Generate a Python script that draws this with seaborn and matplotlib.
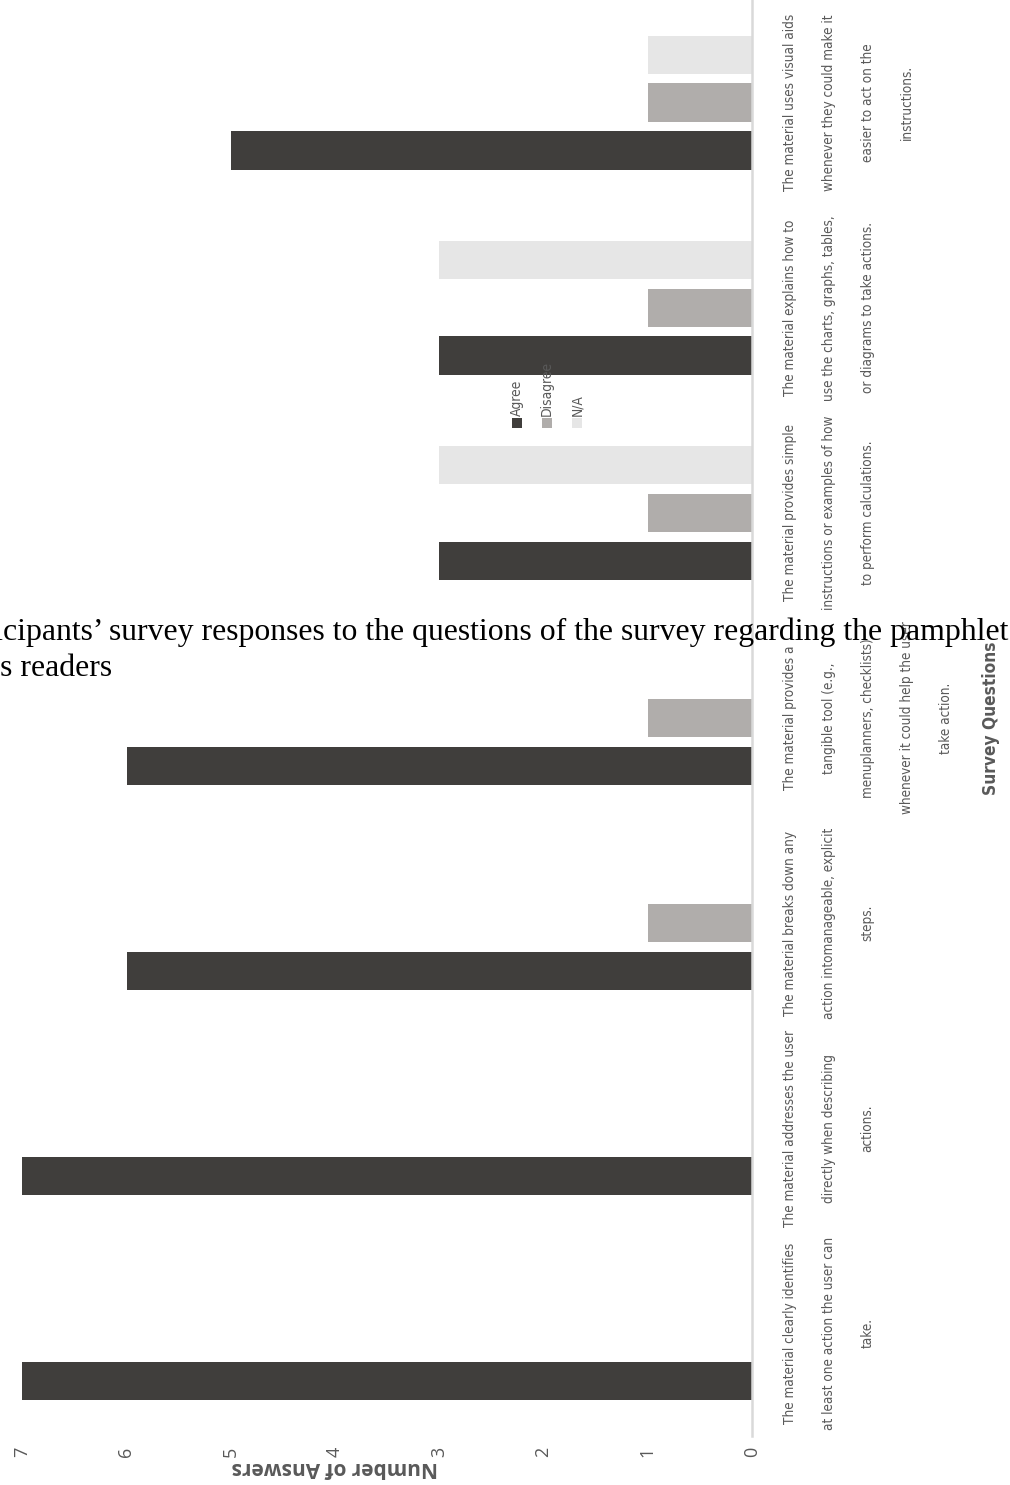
import matplotlib
matplotlib.use("Agg")
import matplotlib.pyplot as plt
import pandas as pd
import seaborn as sns
from matplotlib import font_manager
from matplotlib.font_manager import FontProperties
from matplotlib.patches import Rectangle

# ---- data -------------------------------------------------------------
questions = [
    "The material clearly identifies\nat least one action the user can\ntake.",
    "The material addresses the user\ndirectly when describing\nactions.",
    "The material breaks down any\naction intomanageable, explicit\nsteps.",
    "The material provides a\ntangible tool (e.g.,\nmenuplanners, checklists)\nwhenever it could help the user\ntake action.",
    "The material provides simple\ninstructions or examples of how\nto perform calculations.",
    "The material explains how to\nuse the charts, graphs, tables,\nor diagrams to take actions.",
    "The material uses visual aids\nwhenever they could make it\neasier to act on the\ninstructions.",
]
agree = [7, 7, 6, 6, 3, 3, 5]
disagree = [0, 0, 1, 1, 1, 1, 1]
not_applicable = [0, 0, 0, 0, 3, 3, 1]
responses = ["Agree", "Disagree", "N/A"]
value_ticks = [0, 1, 2, 3, 4, 5, 6, 7]
value_max = 8
palette = ["#403e3c", "#b0adab", "#e6e6e6"]

caption_line1 = "Participants\u2019 survey responses to the questions of the survey regarding the pamphlet"
caption_line2 = "as readers"

rows = []
for q, a, d, n in zip(questions, agree, disagree, not_applicable):
    for r, v in zip(responses, (a, d, n)):
        rows.append({"Question": q, "Response": r, "Count": v})
df = pd.DataFrame(rows)

# ---- fonts --------------------------------------------------------------
sns.set_theme(style="white")
plt.rcParams["font.family"] = ["Open Sans", "DejaVu Sans"]
grey_text = "#595959"


def stretch_value(st):
    if isinstance(st, str):
        return font_manager.stretch_dict.get(st, 500)
    return st


def weight_value(w):
    if isinstance(w, str):
        return font_manager.weight_dict.get(w, 400)
    return w


def narrow_font(target_weight):
    """Most suitable condensed face that is installed, else a plain sans."""
    best, best_key = None, None
    for f in font_manager.fontManager.ttflist:
        if f.style != "normal" or "CJK" in f.name:
            continue
        st = stretch_value(f.stretch)
        if st >= 500 or st < 200:
            continue
        key = (abs(st - 300), abs(weight_value(f.weight) - target_weight))
        if best_key is None or key < best_key:
            best, best_key = f, key
    if best is not None:
        return FontProperties(fname=best.fname)
    fp = FontProperties(family=["Liberation Sans", "DejaVu Sans"])
    if target_weight >= 600:
        fp.set_weight("bold")
    return fp


cond_regular = narrow_font(400)
cond_bold = narrow_font(700)
serif = FontProperties(family=["Liberation Serif", "DejaVu Serif"])

W, H = 1010, 1485
fig = plt.figure(figsize=(W / 100, H / 100), dpi=100)
fig.patch.set_facecolor("white")
renderer = fig.canvas.get_renderer()


def text_width(s, fp, size):
    p = fp.copy()
    p.set_size(size)
    t = fig.text(0, 0, s, fontproperties=p)
    w = t.get_window_extent(renderer).width
    t.remove()
    return w


def fit_size(s, fp, target_px, cap):
    return min(cap, 10 * target_px / text_width(s, fp, 10))


def baseline_step(fp, size, ls):
    p = fp.copy()
    p.set_size(size)
    t1 = fig.text(0, 0, "lp", fontproperties=p, linespacing=ls)
    t2 = fig.text(0, 0, "lp\nlp", fontproperties=p, linespacing=ls)
    d = t2.get_window_extent(renderer).height - t1.get_window_extent(renderer).height
    t1.remove()
    t2.remove()
    return d


def fit_linespacing(fp, size, target_px):
    a = baseline_step(fp, size, 1.0)
    b = baseline_step(fp, size, 2.0)
    return 1.0 + (target_px - a) / (b - a)


label_size = fit_size("The material clearly identifies", cond_regular, 182, 17)
label_ls = fit_linespacing(cond_regular, label_size, 39)
legend_size = fit_size("Disagree", cond_regular, 55, 14)
title_size = fit_size("Survey Questions", cond_bold, 153, 17)
caption_size = 10 * (1010 - 3) / (text_width(caption_line1, serif, 10)
                                  - text_width("Parti", serif, 10))

# ---- chart ------------------------------------------------------------
# value axis runs right-to-left, categories bottom-to-top
ax_left, ax_right, ax_top, ax_bottom = -82, 752, 0, 1436
ax = fig.add_axes([ax_left / W, 1 - ax_bottom / H,
                   (ax_right - ax_left) / W, (ax_bottom - ax_top) / H])

sns.barplot(data=df, x="Count", y="Question", hue="Response", order=questions,
            hue_order=responses, palette=palette, orient="h", width=0.7,
            gap=0.2, saturation=1, linewidth=0, legend=False, ax=ax)

ax.set_xlim(value_max, 0)
ax.set_ylim(-0.5, len(questions) - 0.5)

for side in ("top", "left", "bottom"):
    ax.spines[side].set_visible(False)
ax.spines["right"].set_color("#d9d9d9")
ax.spines["right"].set_linewidth(1.8)
ax.grid(False)

# value ticks
ax.set_xticks(value_ticks)
ax.set_xticklabels([str(v) for v in value_ticks], rotation=90, color=grey_text,
                   fontsize=13)
ax.tick_params(axis="x", length=0, pad=8)
ax.set_xlabel("Number of Answers", rotation=180, color=grey_text, fontsize=15,
              fontweight="bold")
ax.xaxis.label.set_va("center")
ax.xaxis.set_label_coords(0.5, -32 / (ax_bottom - ax_top))

# category ticks on the right, text rotated
ax.yaxis.tick_right()
ax.set_yticks(range(len(questions)))
ax.set_yticklabels(questions)
ax.tick_params(axis="y", length=0, pad=22)
for lbl in ax.get_yticklabels():
    lbl.set_fontproperties(cond_regular)
    lbl.set_fontsize(label_size)
    lbl.set_rotation(90)
    lbl.set_ha("left")
    lbl.set_va("center")
    lbl.set_multialignment("center")
    lbl.set_linespacing(label_ls)
    lbl.set_color(grey_text)

ax.yaxis.set_label_position("right")
ax.set_ylabel("Survey Questions", rotation=90, color=grey_text)
ax.yaxis.label.set_fontproperties(cond_bold)
ax.yaxis.label.set_fontsize(title_size)
ax.yaxis.label.set_va("center")
ax.yaxis.label.set_ha("center")
ax.yaxis.set_label_coords((991 - ax_left) / (ax_right - ax_left), 0.5)

# legend, stacked sideways with rotated entries
for i, (name, col) in enumerate(zip(responses, palette)):
    xc = 517 + 30 * i
    fig.patches.append(Rectangle(((xc - 5) / W, 1 - 428 / H), 10 / W, 10 / H,
                                 transform=fig.transFigure, facecolor=col,
                                 edgecolor="none"))
    lp = cond_regular.copy()
    lp.set_size(legend_size)
    fig.text(xc / W, 1 - 416 / H, name, rotation=90, ha="center", va="bottom",
             fontproperties=lp, color=grey_text)

# caption running across the chart
cp = serif.copy()
cp.set_size(caption_size)
x1 = 3 - text_width("Parti", serif, caption_size)
x2 = 0 - text_width("a", serif, caption_size)
fig.text(x1 / W, 1 - 640 / H, caption_line1, fontproperties=cp,
         color="black", ha="left", va="baseline")
fig.text(x2 / W, 1 - 676 / H, caption_line2, fontproperties=cp,
         color="black", ha="left", va="baseline")

fig.savefig("out.png", dpi=100)
